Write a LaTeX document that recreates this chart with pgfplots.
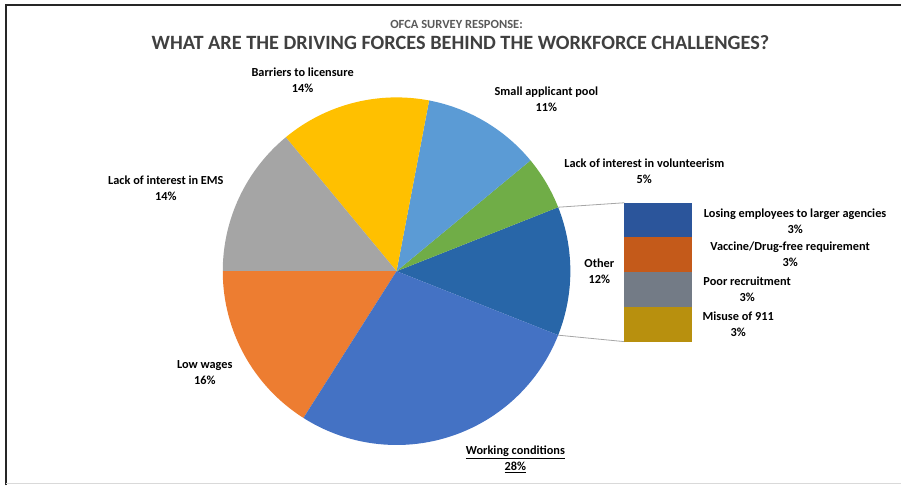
\documentclass[border=0pt]{standalone}
\usepackage{pgfplots}
\pgfplotsset{compat=1.18}
\usepackage{fontspec}
\setmainfont{Carlito}
\usetikzlibrary{calc}
\definecolor{cWork}{HTML}{4472C4}
\definecolor{cLow}{HTML}{ED7D31}
\definecolor{cEMS}{HTML}{A5A5A5}
\definecolor{cBar}{HTML}{FFC000}
\definecolor{cSmall}{HTML}{5B9BD5}
\definecolor{cVol}{HTML}{70AD47}
\definecolor{cOther}{HTML}{2866A8}
\definecolor{bLose}{HTML}{2B559B}
\definecolor{bVacc}{HTML}{C45A1A}
\definecolor{bPoor}{HTML}{737B86}
\definecolor{bMis}{HTML}{B8900E}
\definecolor{titlegray}{HTML}{404040}
\definecolor{subgray}{HTML}{595959}
\begin{document}
\begin{tikzpicture}
\begin{axis}[
  at={(0,0)}, anchor=south west,
  x=1pt, y=1pt, scale only axis,
  xmin=0, xmax=902, ymin=0, ymax=486,
  hide axis, clip=false,
]
\path (axis cs:0,0) rectangle (axis cs:902,486);
% frame
\draw[line width=2pt, black!85] (axis cs:6,0) -- (axis cs:6,481) -- (axis cs:902,481);
\draw[line width=1pt, black!15] (axis cs:6,2) -- (axis cs:902,2);
% pie slices: value/colour, counterclockwise from -21.6 deg
\gdef\angA{-21.6}
\foreach \v/\c in {12/cOther,5/cVol,11/cSmall,14/cBar,14/cEMS,16/cLow,28/cWork} {
  \pgfmathsetmacro\angB{\angA+3.6*\v}
  \edef\temp{\noexpand\fill[\c] (axis cs:397,214.5) -- ++(\angA:174pt) arc[start angle=\angA, end angle=\angB, radius=174pt] -- cycle;}
  \temp
  \global\let\angA\angB
}
% connector lines
\draw[black!35, line width=0.8pt] ($(axis cs:397,214.5)+(21.6:174pt)$) -- (axis cs:625,283);
\draw[black!35, line width=0.8pt] ($(axis cs:397,214.5)+(-21.6:174pt)$) -- (axis cs:625,144);
% titles
\node[font=\fontsize{12.5}{14}\selectfont\bfseries, text=subgray] at (axis cs:457,462) {OFCA SURVEY RESPONSE:};
\node[font=\fontsize{20.3}{23}\selectfont\bfseries, text=titlegray] at (axis cs:461,443) {WHAT ARE THE DRIVING FORCES BEHIND THE WORKFORCE CHALLENGES?};
% labels
\tikzset{lab/.style={font=\fontsize{12.3}{16}\selectfont\bfseries, align=center, inner sep=0pt}}
\node[lab] at (axis cs:303,406) {Barriers to licensure\\14\%};
\node[lab] at (axis cs:547,387) {Small applicant pool\\11\%};
\node[lab] at (axis cs:645,315) {Lack of interest in volunteerism\\5\%};
\node[lab] at (axis cs:166,298) {Lack of interest in EMS\\14\%};
\node[lab] at (axis cs:205,113) {Low wages\\16\%};
\node[lab] at (axis cs:516,26) {\underline{Working conditions}\\\underline{28\%}};
\node[lab] at (axis cs:600,214) {Other\\12\%};
\node[lab] at (axis cs:796,265) {Losing employees to larger agencies\\3\%};
\node[lab] at (axis cs:791,231) {Vaccine/Drug-free requirement\\3\%};
\node[lab] at (axis cs:748,196) {Poor recruitment\\3\%};
\node[lab] at (axis cs:739,161) {Misuse of 911\\3\%};
\end{axis}
\begin{axis}[
  at={(625pt,144pt)}, anchor=south west,
  width=68pt, height=139pt, scale only axis,
  xmin=-0.5, xmax=0.5, ymin=0, ymax=12,
  y dir=reverse, ybar stacked, bar width=68pt,
  hide axis, clip=false,
]
\addplot[fill=bLose, draw=none] coordinates {(0,3)};
\addplot[fill=bVacc, draw=none] coordinates {(0,3)};
\addplot[fill=bPoor, draw=none] coordinates {(0,3)};
\addplot[fill=bMis, draw=none] coordinates {(0,3)};
\end{axis}
\end{tikzpicture}
\end{document}
